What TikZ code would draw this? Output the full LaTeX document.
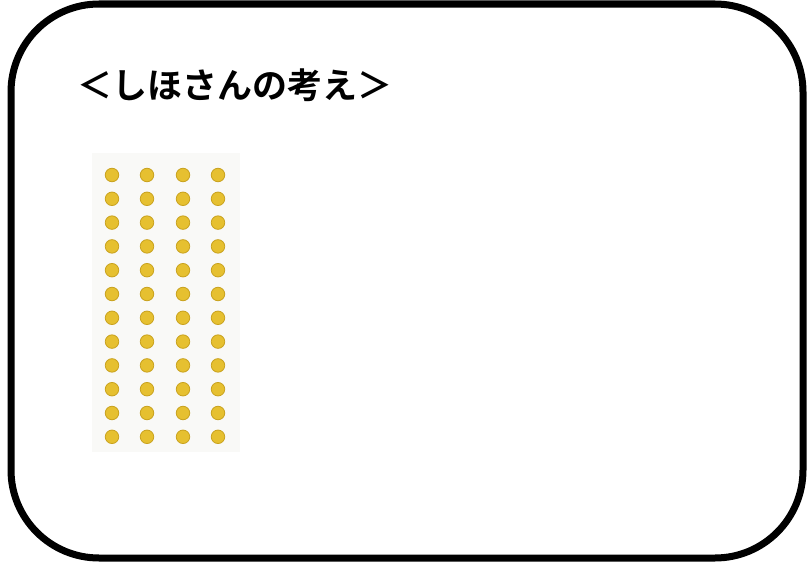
\documentclass[tikz,border=0pt]{standalone}
\usepackage{fontspec}
\newfontfamily\cjk{Noto Sans CJK JP Bold}
\definecolor{dotyellow}{HTML}{E6C030}
\definecolor{dotedge}{HTML}{C9A21E}
\definecolor{photobg}{HTML}{F9F9F7}
\begin{document}
\begin{tikzpicture}[x=1pt,y=-1pt,
  frame/.style={draw=black,line width=7pt,rounded corners=88pt},
  dot/.style={circle,inner sep=0pt,minimum size=13.5pt,fill=dotyellow,draw=dotedge,line width=0.8pt},
  title/.style={font=\cjk\fontsize{35}{40}\selectfont,inner sep=0pt,anchor=center}]
\useasboundingbox (0,0) rectangle (807,562);
\draw[frame] (11,4) rectangle (803,558);
\node[title] (t) at (235,85) {＜しほさんの考え＞};
\fill[photobg] (92,153) rectangle (240,452);
\foreach \c [count=\i] in {112,147,183,218}{
  \foreach \r in {0,...,11}{
    \node[dot] (d\i-\r) at (\c,{175+23.8*\r}) {};
  }
}
\end{tikzpicture}
\end{document}
